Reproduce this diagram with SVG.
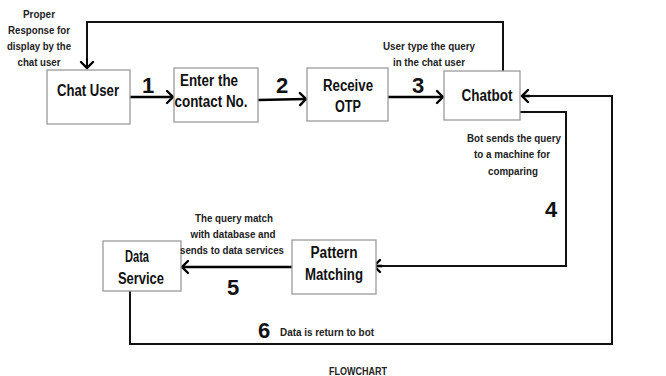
<svg xmlns="http://www.w3.org/2000/svg" width="666" height="376" viewBox="0 0 666 376">
<defs>
<marker id="arr" markerUnits="userSpaceOnUse" markerWidth="16" markerHeight="16" refX="10" refY="7" orient="auto" viewBox="0 0 16 14">
<path d="M4,1 L10,7 L4,13" fill="none" stroke="#000" stroke-width="2.4" stroke-linecap="round" stroke-linejoin="miter"/>
</marker>
<style>
.box{fill:#fff;stroke:#9a9a9a;stroke-width:1.3}
.t{font-family:"Liberation Sans","Arial",sans-serif;font-weight:bold;fill:#111}
.n{font-size:16px;text-anchor:middle}
.s{font-size:11px;text-anchor:middle;fill:#222}
.num{font-size:22px;text-anchor:middle}
.ln{fill:none;stroke:#111;stroke-width:2}
.ar{fill:none;stroke:#000;stroke-width:2.6;marker-end:url(#arr)}
</style>
</defs>
<rect width="666" height="376" fill="#fff"/>
<g id="connectors">
<path class="ar" d="M130,97 L173,97"/>
<path class="ar" d="M258,100 L306,99"/>
<path class="ar" d="M388,97 L443,97"/>
<path class="ln" d="M503,71 L503,22 L87,22 L87,60"/>
<path class="ar" d="M87,58 L87,68" style="stroke-width:2"/>
<path class="ln" d="M520,112 L566,112 L566,266 L380,266"/>
<path class="ar" d="M382,266 L374,266"/>
<path class="ar" d="M292,267 L182,267"/>
<path class="ln" d="M130,291 L130,344 L612,344 L612,96 L528,96"/>
<path class="ar" d="M530,96 L522,96"/>
</g>
<g id="chat-user">
<rect class="box" x="47" y="70" width="83" height="54"/>
<text class="t n" x="88" y="96" textLength="62" lengthAdjust="spacingAndGlyphs">Chat User</text>
</g>
<g id="enter-contact">
<rect class="box" x="174" y="68" width="84" height="54"/>
<text class="t n" x="209" y="86" textLength="58" lengthAdjust="spacingAndGlyphs">Enter the</text>
<text class="t n" x="211" y="107" textLength="73" lengthAdjust="spacingAndGlyphs">contact No.</text>
</g>
<g id="receive-otp">
<rect class="box" x="307" y="68" width="81" height="53"/>
<text class="t n" x="348" y="91" textLength="50" lengthAdjust="spacingAndGlyphs">Receive</text>
<text class="t n" x="348" y="112" textLength="26" lengthAdjust="spacingAndGlyphs">OTP</text>
</g>
<g id="chatbot">
<rect class="box" x="444" y="71" width="76" height="49"/>
<text class="t n" x="487" y="101" textLength="51" lengthAdjust="spacingAndGlyphs">Chatbot</text>
</g>
<g id="pattern-matching">
<rect class="box" x="292" y="240" width="84" height="54"/>
<text class="t n" x="334" y="258" textLength="47" lengthAdjust="spacingAndGlyphs">Pattern</text>
<text class="t n" x="334" y="280" textLength="58" lengthAdjust="spacingAndGlyphs">Matching</text>
</g>
<g id="data-service">
<rect class="box" x="103" y="241" width="78" height="50"/>
<text class="t n" x="137" y="262" textLength="24" lengthAdjust="spacingAndGlyphs">Data</text>
<text class="t n" x="141" y="284" textLength="46" lengthAdjust="spacingAndGlyphs">Service</text>
</g>
<g id="labels">
<text class="t s" x="39" y="18" textLength="32" lengthAdjust="spacingAndGlyphs">Proper</text>
<text class="t s" x="39" y="34" textLength="62" lengthAdjust="spacingAndGlyphs">Response for</text>
<text class="t s" x="39" y="50" textLength="64" lengthAdjust="spacingAndGlyphs">display by the</text>
<text class="t s" x="39" y="66" textLength="43" lengthAdjust="spacingAndGlyphs">chat user</text>
<text class="t s" x="429" y="50" textLength="92" lengthAdjust="spacingAndGlyphs">User type the query</text>
<text class="t s" x="429" y="66" textLength="72" lengthAdjust="spacingAndGlyphs">in the chat user</text>
<text class="t s" x="514" y="142" textLength="94" lengthAdjust="spacingAndGlyphs">Bot sends the query</text>
<text class="t s" x="512" y="158" textLength="76" lengthAdjust="spacingAndGlyphs">to a machine for</text>
<text class="t s" x="513" y="175" textLength="50" lengthAdjust="spacingAndGlyphs">comparing</text>
<text class="t s" x="234" y="222" textLength="78" lengthAdjust="spacingAndGlyphs">The query match</text>
<text class="t s" x="233" y="238" textLength="85" lengthAdjust="spacingAndGlyphs">with database and</text>
<text class="t s" x="232" y="254" textLength="104" lengthAdjust="spacingAndGlyphs">sends to data services</text>
<text class="t s" x="280" y="336" style="text-anchor:start" textLength="94" lengthAdjust="spacingAndGlyphs">Data is return to bot</text>
<text class="t num" x="148" y="93">1</text>
<text class="t num" x="282" y="93">2</text>
<text class="t num" x="418" y="93">3</text>
<text class="t num" x="551" y="217">4</text>
<text class="t num" x="233" y="295">5</text>
<text class="t num" x="264" y="338">6</text>
<text class="t s" x="358" y="375" textLength="58" lengthAdjust="spacingAndGlyphs">FLOWCHART</text>
</g>
</svg>
